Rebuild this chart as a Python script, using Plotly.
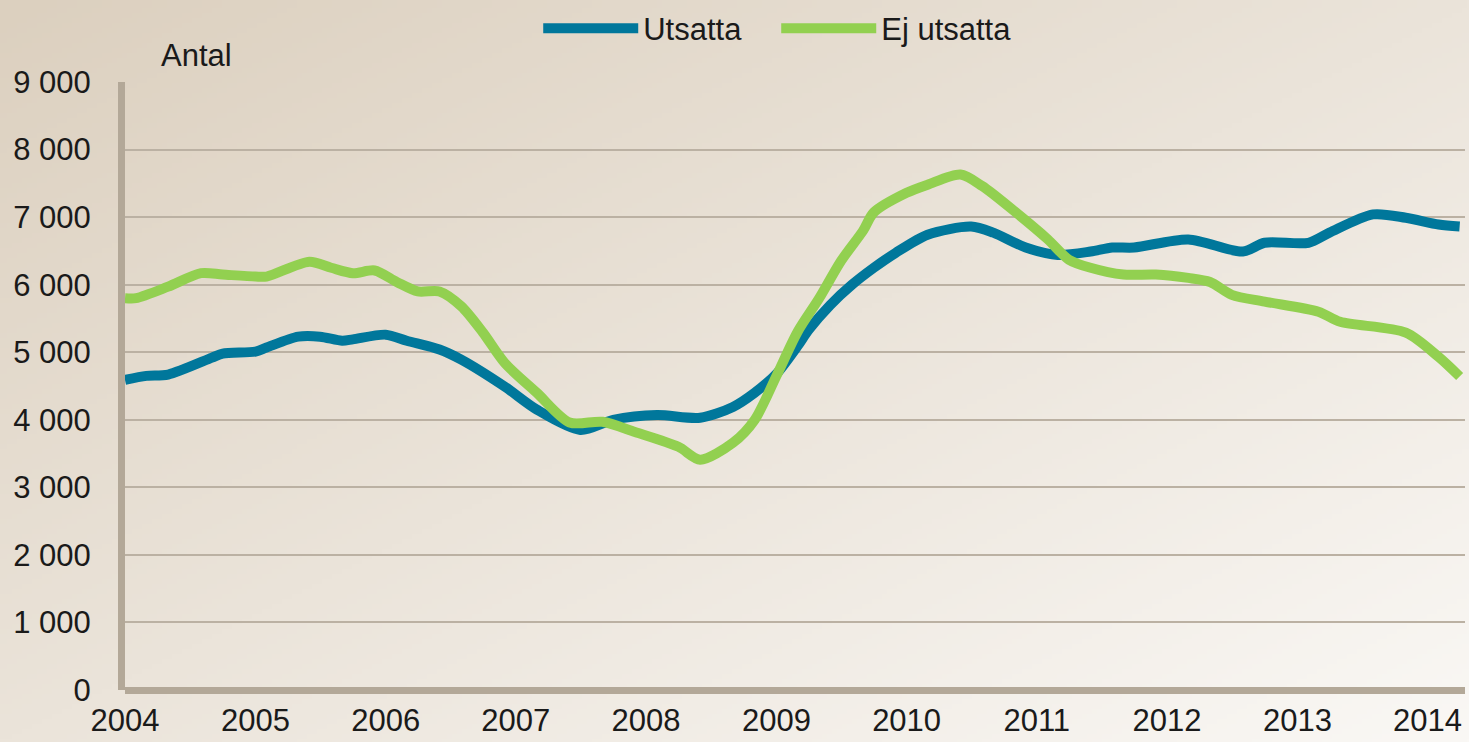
import base64, struct, zlib
import numpy as np
import plotly.graph_objects as go

# ---------------- data ----------------
utsatta_dates = ["2004-01-01", "2004-03-01", "2004-05-01", "2004-09-01", "2004-10-01",
                 "2005-01-01", "2005-02-01", "2005-05-01", "2005-07-01", "2005-09-01",
                 "2005-10-01", "2006-01-01", "2006-03-01", "2006-06-01", "2006-08-01",
                 "2006-12-01", "2007-03-01", "2007-07-01", "2007-10-01", "2008-02-01",
                 "2008-06-01", "2008-09-01", "2008-11-01", "2009-01-01", "2009-03-01",
                 "2009-04-01", "2009-06-01", "2009-08-01", "2009-10-01", "2009-12-01",
                 "2010-03-01", "2010-07-01", "2010-09-01", "2010-12-01", "2011-03-01",
                 "2011-06-01", "2011-08-01", "2011-10-01", "2012-03-01", "2012-08-01",
                 "2012-10-01", "2013-02-01", "2013-04-01", "2013-08-01", "2013-11-01",
                 "2014-02-01", "2014-04-01"]
utsatta_values = [4590, 4650, 4670, 4920, 4980,
                  5010, 5070, 5230, 5230, 5170,
                  5190, 5260, 5170, 5040, 4890,
                  4490, 4150, 3850, 4000, 4070,
                  4030, 4190, 4400, 4680, 5090,
                  5330, 5700, 6000, 6250, 6470,
                  6740, 6860, 6770, 6550, 6440,
                  6490, 6550, 6550, 6670, 6490,
                  6620, 6620, 6770, 7040, 6990,
                  6890, 6860]

ej_dates = ["2004-01-01", "2004-02-01", "2004-05-01", "2004-08-01", "2004-10-01",
            "2005-01-01", "2005-02-01", "2005-06-01", "2005-08-01", "2005-10-01",
            "2005-12-01", "2006-02-01", "2006-04-01", "2006-06-01", "2006-08-01",
            "2006-10-01", "2006-12-01", "2007-03-01", "2007-06-01", "2007-09-01",
            "2007-12-01", "2008-04-01", "2008-06-01", "2008-09-01", "2008-11-01",
            "2009-01-01", "2009-03-01", "2009-05-01", "2009-07-01", "2009-09-01",
            "2009-10-01", "2010-01-01", "2010-03-01", "2010-06-01", "2010-08-01",
            "2010-11-01", "2011-02-01", "2011-04-01", "2011-06-01", "2011-09-01",
            "2011-12-01", "2012-03-01", "2012-05-01", "2012-07-01", "2012-10-01",
            "2013-03-01", "2013-05-01", "2013-11-01", "2014-02-01", "2014-04-01"]
ej_values = [5800, 5800, 5970, 6170, 6150,
             6120, 6120, 6340, 6250, 6170,
             6210, 6040, 5900, 5900, 5680,
             5290, 4840, 4400, 3960, 3970,
             3820, 3600, 3410, 3660, 4000,
             4650, 5300, 5800, 6350, 6800,
             7070, 7360, 7480, 7630, 7460,
             7080, 6670, 6370, 6250, 6150,
             6150, 6100, 6040, 5850, 5750,
             5600, 5450, 5290, 4930, 4640]

year_ticks = ["2004", "2005", "2006", "2007", "2008", "2009",
              "2010", "2011", "2012", "2013", "2014"]
y_ticks = [0, 1000, 2000, 3000, 4000, 5000, 6000, 7000, 8000, 9000]

# ---------------- style ----------------
W, H = 1469, 742
ML, MR, MT, MB = 125, 4, 82, 52
BLUE = "#00779b"
GREEN = "#92d050"
GRID = "#bbb1a3"
AXIS = "#b3a898"
FONT = "Liberation Sans, Arial, sans-serif"
FS = 31


def gradient_png(w, h, c0, c1):
    xs = np.linspace(0, 1, w)[None, :]
    ys = np.linspace(0, 1, h)[:, None]
    t = 0.5 * xs + 0.5 * ys
    c0 = np.array(c0, float)
    c1 = np.array(c1, float)
    img = (c0[None, None, :] * (1 - t[..., None]) + c1[None, None, :] * t[..., None])
    img = np.clip(img, 0, 255).astype(np.uint8)
    raw = b"".join(b"\x00" + img[r].tobytes() for r in range(h))

    def chunk(tag, data):
        c = struct.pack(">I", len(data)) + tag + data
        return c + struct.pack(">I", zlib.crc32(tag + data) & 0xFFFFFFFF)

    png = b"\x89PNG\r\n\x1a\n"
    png += chunk(b"IHDR", struct.pack(">IIBBBBB", w, h, 8, 2, 0, 0, 0))
    png += chunk(b"IDAT", zlib.compress(raw, 9))
    png += chunk(b"IEND", b"")
    return "data:image/png;base64," + base64.b64encode(png).decode()


bg = gradient_png(294, 148, (220, 208, 191), (250, 248, 245))

pw = W - ML - MR
ph = H - MT - MB

fig = go.Figure()
fig.add_trace(go.Scatter(x=utsatta_dates, y=utsatta_values, name="Utsatta", mode="lines",
                         line=dict(color=BLUE, width=10, shape="spline", smoothing=0.8)))
fig.add_trace(go.Scatter(x=ej_dates, y=ej_values, name="Ej utsatta", mode="lines",
                         line=dict(color=GREEN, width=10, shape="spline", smoothing=0.8)))

fig.update_layout(
    width=W, height=H,
    margin=dict(l=ML, r=MR, t=MT, b=MB, pad=0, autoexpand=False),
    paper_bgcolor="rgba(0,0,0,0)",
    plot_bgcolor="rgba(0,0,0,0)",
    font=dict(family=FONT, size=FS, color="#1a1a1a"),
    separators=", ",
    showlegend=True,
    legend=dict(orientation="h", xref="container", yref="container",
                x=0.5284, xanchor="center", y=0.998, yanchor="top",
                font=dict(size=FS), itemwidth=95, entrywidth=128,
                bgcolor="rgba(0,0,0,0)", tracegroupgap=0),
    images=[dict(source=bg, xref="paper", yref="paper",
                 x=-ML / pw, y=1 + MT / ph, sizex=W / pw, sizey=H / ph,
                 sizing="stretch", layer="below", xanchor="left", yanchor="top")],
    annotations=[dict(text="Antal", xref="paper", yref="paper",
                      x=(159 - ML) / pw, y=1 + (MT - 56) / ph,
                      xanchor="left", yanchor="middle", showarrow=False,
                      font=dict(size=FS, family=FONT, color="#1a1a1a"))],
)

fig.update_xaxes(
    type="date",
    range=["2004-01-01", "2014-04-16"],
    tickvals=[f"{y}-01-01" for y in year_ticks],
    ticktext=year_ticks,
    showgrid=False, zeroline=False,
    showline=False, automargin=False,
    ticks="", ticklabelstandoff=9,
    tickfont=dict(size=FS, family=FONT, color="#1a1a1a"),
)
fig.update_yaxes(
    range=[0, 9000],
    tickvals=y_ticks,
    tickformat=",d",
    showgrid=True, gridcolor=GRID, gridwidth=1.5,
    zeroline=True, zerolinecolor=AXIS, zerolinewidth=7,
    showline=True, linecolor=AXIS, linewidth=7, automargin=False,
    ticks="", ticklabelstandoff=21,
    tickfont=dict(size=FS, family=FONT, color="#1a1a1a"),
)

fig.write_html("out.html", config={"displayModeBar": False},
               post_script="document.body.style.margin='0';document.body.style.overflow='hidden';")
